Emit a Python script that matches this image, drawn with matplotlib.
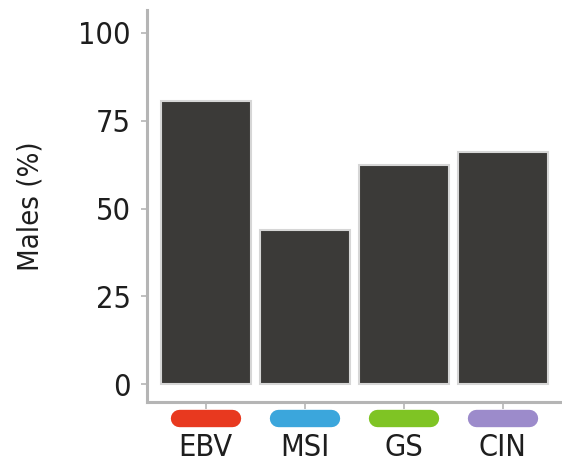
import matplotlib
matplotlib.use("Agg")
import matplotlib.pyplot as plt
import matplotlib.transforms as mtransforms

plt.rcParams['font.family'] = ['DejaVu Sans']
plt.rcParams['font.stretch'] = 'condensed'

subtypes = ["EBV", "MSI", "GS", "CIN"]
males_pct = [80.6, 43.9, 62.3, 66.0]
subtype_colors = ["#e8391f", "#3ba6dc", "#7fc424", "#9c8bcb"]

fig = plt.figure(figsize=(5.62, 4.74), dpi=100)
ax = fig.add_axes([0.262, 0.152, 0.738, 0.827])

xpos = list(range(len(subtypes)))
ax.bar(xpos, males_pct, width=0.91, color="#3b3a38", edgecolor="#d6d6d6", linewidth=1.5)

ax.set_xlim(-0.59, 3.6)
ax.set_ylim(-5, 106.5)
ax.set_yticks([0, 25, 50, 75, 100])

for s in ["top", "right"]:
    ax.spines[s].set_visible(False)
for s in ["left", "bottom"]:
    ax.spines[s].set_color("#b5b5b5")
    ax.spines[s].set_linewidth(2.2)

ax.set_xticks(xpos)
ax.set_xticklabels(subtypes)
ax.tick_params(axis="x", length=5, width=1.2, color="#b5b5b5", pad=17,
               labelsize=22, labelcolor="#1e1e1e")
ax.tick_params(axis="y", length=4, width=1.2, color="#b5b5b5", pad=8,
               labelsize=22, labelcolor="#1e1e1e")
ax.set_ylabel("Males (%)", fontsize=21, color="#1e1e1e", labelpad=24)

# coloured pills under each subtype label
trans = mtransforms.blended_transform_factory(ax.transData, ax.transAxes)
for x, c in zip(xpos, subtype_colors):
    ax.plot([x - 0.27, x + 0.27], [-0.041, -0.041], color=c, lw=12.5,
            solid_capstyle="round", transform=trans, clip_on=False)

fig.savefig("out.png", dpi=100)
